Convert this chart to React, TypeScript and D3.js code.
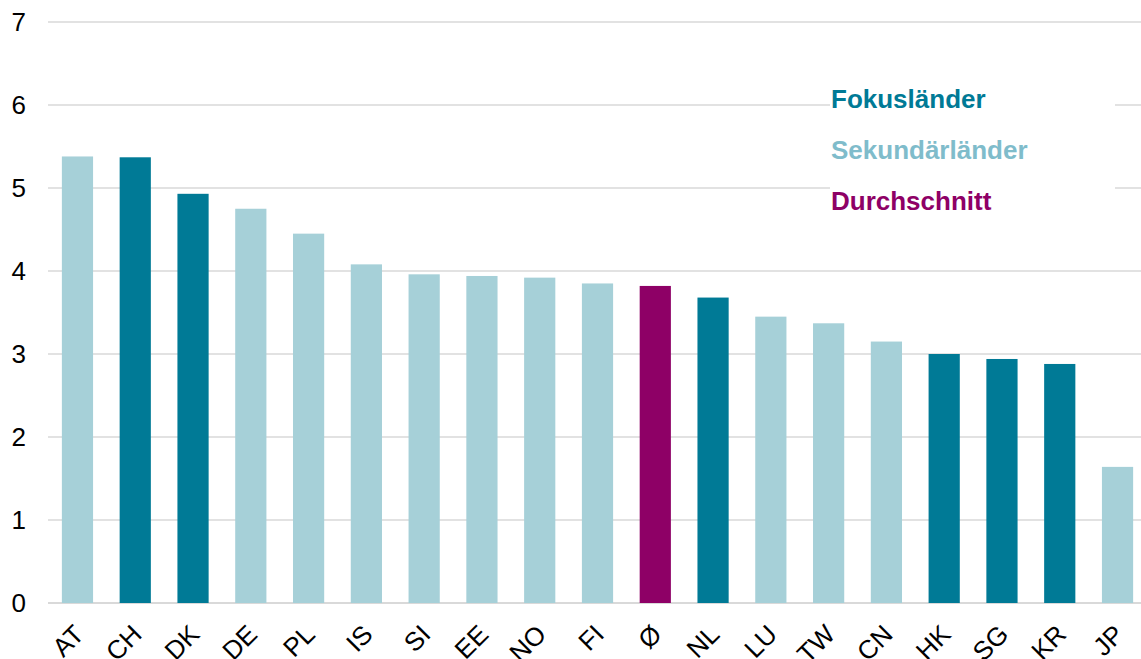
import React from "react";
import * as d3 from "d3";

const categories = ["AT", "CH", "DK", "DE", "PL", "IS", "SI", "EE", "NO", "FI", "Ø", "NL", "LU", "TW", "CN", "HK", "SG", "KR", "JP"];
const values = [5.38, 5.37, 4.93, 4.75, 4.45, 4.08, 3.96, 3.94, 3.92, 3.85, 3.82, 3.68, 3.45, 3.37, 3.15, 3.0, 2.94, 2.88, 1.64];
const groups = ["s", "f", "f", "s", "s", "s", "s", "s", "s", "s", "a", "f", "s", "s", "s", "f", "f", "f", "s"];
const yTicks = [0, 1, 2, 3, 4, 5, 6, 7];
const legendLabels = ["Fokusländer", "Sekundärländer", "Durchschnitt"];
const legendKeys = ["f", "s2", "a"];

const W = 1141;
const H = 659;
const margin = { left: 48, top: 22 };

const barColor: Record<string, string> = { f: "#007A96", s: "#A6D0D8", a: "#8E0066" };
const legendColor: Record<string, string> = { f: "#007A96", s2: "#7FBCCB", a: "#8E0066" };

export default function App() {
  const x = d3
    .scaleBand<string>()
    .domain(categories)
    .range([margin.left, 1147])
    .paddingInner(0.46)
    .paddingOuter(0.24);
  const y = d3.scaleLinear().domain([0, 7]).range([603, 22]);
  const font = "'Liberation Sans', Arial, Helvetica, sans-serif";

  return (
    <svg width={W} height={H} style={{ position: "absolute", left: 0, top: 0, background: "#fff" }} fontFamily={font}>
      {yTicks.map((t) => (
        <g key={t}>
          <line x1={margin.left} x2={W} y1={y(t)} y2={y(t)} stroke="#D9D9D9" strokeWidth={t === 0 ? 2 : 1.5} />
          <text x={26} y={y(t)} dy="0.33em" textAnchor="end" fontSize={26} fill="#000">
            {t}
          </text>
        </g>
      ))}
      {categories.map((c, i) => (
        <rect
          key={c}
          x={x(c)}
          y={y(values[i])}
          width={x.bandwidth()}
          height={y(0) - y(values[i])}
          fill={barColor[groups[i]]}
        />
      ))}
      {categories.map((c) => {
        const cx = (x(c) as number) + x.bandwidth() / 2;
        return (
          <text
            key={c}
            transform={`translate(${cx + 8},${636}) rotate(-45)`}
            textAnchor="end"
            fontSize={26}
            fill="#000"
          >
            {c}
          </text>
        );
      })}
      <rect x={830} y={82} width={285} height={138} fill="#fff" />
      {legendLabels.map((l, i) => (
        <text key={l} x={831} y={108 + i * 51} fontSize={26} fontWeight="bold" fill={legendColor[legendKeys[i]]}>
          {l}
        </text>
      ))}
    </svg>
  );
}
